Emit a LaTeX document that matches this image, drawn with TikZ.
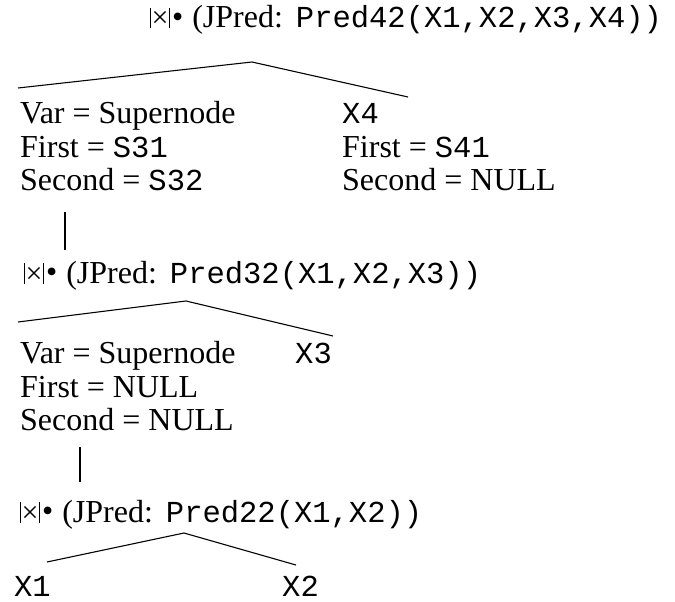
\documentclass[tikz,border=0pt]{standalone}
\usepackage{fontspec}
\setmainfont{Liberation Serif}
\setmonofont{Liberation Mono}
% join operator: |x| followed by a filled dot
\newcommand\joinmark{\rule[-0.5pt]{1pt}{21pt}\kern0.5pt{\fontsize{30}{30}\selectfont ×}\kern0.5pt\rule[-0.5pt]{1pt}{21pt}\kern2pt\raisebox{0.5pt}{{\fontsize{32}{32}\selectfont •}}}
\newcommand\code[1]{{\fontsize{30.5}{33}\selectfont\ttfamily #1}}
\newcommand\jpred[1]{\joinmark\hspace{9pt}(JPred:\hspace{13pt}\code{#1}}
\begin{document}
\begin{tikzpicture}[x=1pt,y=-1pt,
  every node/.style={inner sep=0pt,anchor=base west},
  txt/.style={font=\fontsize{32}{33}\selectfont},
  branch/.style={line width=1.1pt,black}]
\useasboundingbox (0,0) rectangle (675,602);

% level 1
\node[txt] (t1) at (150,28) {\jpred{Pred42(X1,X2,X3,X4))}};
\coordinate (a1) at (252,62);
\coordinate (l1) at (18,88);
\coordinate (r1) at (408,97);
\draw[branch] (l1) -- (a1) -- (r1);
\node[txt] (v1a) at (20,124) {Var = Supernode};
\node[txt] (v1b) at (20,157) {First = \code{S31}};
\node[txt] (v1c) at (20,190) {Second = \code{S32}};
\node[txt] (w1a) at (342,124) {\code{X4}};
\node[txt] (w1b) at (342,157) {First = \code{S41}};
\node[txt] (w1c) at (342,190) {Second = NULL};
\coordinate (d1) at (65,212);
\coordinate (e1) at (65,250);
\draw[branch] (d1) -- (e1);

% level 2
\node[txt] (t2) at (24,283) {\jpred{Pred32(X1,X2,X3))}};
\coordinate (a2) at (186,301);
\coordinate (l2) at (18,322);
\coordinate (r2) at (333,336);
\draw[branch] (l2) -- (a2) -- (r2);
\node[txt] (v2a) at (20,363) {Var = Supernode};
\node[txt] (v2b) at (20,397) {First = NULL};
\node[txt] (v2c) at (20,430) {Second = NULL};
\node[txt] (w2a) at (295,363) {\code{X3}};
\coordinate (d2) at (80,447);
\coordinate (e2) at (80,482);
\draw[branch] (d2) -- (e2);

% level 3
\node[txt] (t3) at (20,522) {\jpred{Pred22(X1,X2))}};
\coordinate (a3) at (184,533);
\coordinate (l3) at (47,562);
\coordinate (r3) at (296,565);
\draw[branch] (l3) -- (a3) -- (r3);
\node[txt] (x1) at (14,596) {\code{X1}};
\node[txt] (x2) at (282,596) {\code{X2}};
\end{tikzpicture}
\end{document}
